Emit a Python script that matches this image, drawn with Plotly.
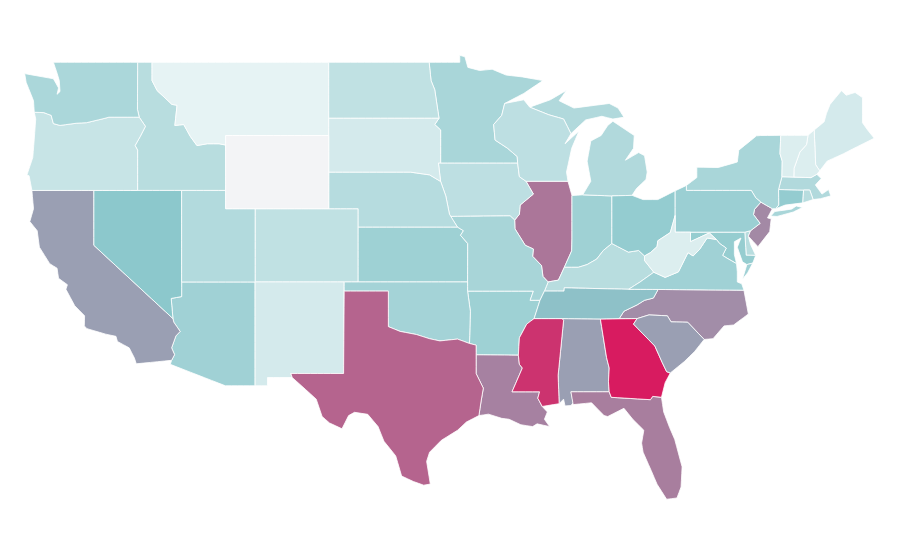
import json, urllib.parse
import plotly.graph_objects as go

states = ["AL","AZ","AR","CA","CO","CT","DE","FL","GA","ID","IL","IN","IA","KS","KY","LA","ME","MD","MA","MI","MN","MS","MO","MT","NE","NV","NH","NJ","NM","NY","NC","ND","OH","OK","OR","PA","RI","SC","SD","TN","TX","UT","VT","VA","WA","WV","WI","WY"]
values = [50,30.6,31.2,50,18.4,35,21.4,59,100,21.4,62,30.9,19.6,31.2,21.4,58,10.9,34.2,24.1,24.1,27.1,90,27.5,4.1,22.2,38,7.9,56,10.9,27.1,55,18.4,35,29,15.8,32.4,21.4,50,10.9,40,70,23.7,7.9,30.6,26.4,7.9,19.6,0]
colorscale = [[0,"#f3f4f6"],[0.03,"#e9f4f5"],[0.38,"#8cc8cc"],[0.5,"#9a9fb3"],[0.6,"#a97a9c"],[0.7,"#b5648e"],[1,"#d81b60"]]

# simplified state outlines, geographic (lon, lat); each state is a list of rings
outlines = {
"WA":[[(-124.7,48.38),(-123.1,48.15),(-122.75,48.1),(-122.4,47.6),(-122.5,47.25),(-122.3,47.4),(-122.35,48.0),(-122.5,48.4),(-122.75,49),(-117.03,49),(-117.04,46.42),(-116.92,46),(-118.98,46),(-119.3,45.93),(-120.5,45.7),(-121.2,45.67),(-122.3,45.55),(-122.75,45.65),(-122.9,46.1),(-123.4,46.25),(-124.05,46.27),(-124.1,46.9),(-124.6,47.9)]],
"OR":[[(-124.05,46.27),(-123.4,46.25),(-122.9,46.1),(-122.75,45.65),(-122.3,45.55),(-121.2,45.67),(-120.5,45.7),(-119.3,45.93),(-118.98,46),(-116.92,46),(-116.5,45.5),(-116.85,44.95),(-117.2,44.45),(-117.03,44.2),(-117.03,42),(-124.21,42),(-124.4,42.8),(-124.55,42.84),(-124.15,43.8),(-124.05,44.8),(-123.95,45.9)]],
"CA":[[(-124.21,42),(-120,42),(-120,39),(-114.63,35),(-114.57,34.8),(-114.14,34.3),(-114.43,34.05),(-114.72,33.4),(-114.52,33.03),(-114.72,32.72),(-117.12,32.53),(-117.25,32.85),(-117.6,33.4),(-118.4,33.75),(-118.5,34.03),(-119.2,34.15),(-120.47,34.45),(-120.65,34.6),(-120.63,35.15),(-121.3,35.7),(-121.9,36.6),(-121.8,36.85),(-122.4,37.2),(-122.5,37.75),(-123,38),(-123.7,38.9),(-123.85,39.8),(-124.35,40.3),(-124.1,41)]],
"NV":[[(-120,42),(-114.04,42),(-114.04,36.2),(-114.75,36.1),(-114.63,35),(-120,39)]],
"ID":[[(-117.03,49),(-116.05,49),(-116.05,48),(-115.7,47.45),(-114.7,46.7),(-114.35,46.65),(-114.5,45.55),(-113.9,45.6),(-113.45,44.95),(-113,44.45),(-112.3,44.55),(-111.5,44.55),(-111.05,44.48),(-111.05,42),(-117.03,42),(-117.03,44.2),(-117.2,44.45),(-116.85,44.95),(-116.5,45.5),(-116.92,46),(-117.04,46.42)]],
"MT":[[(-116.05,49),(-104.05,49),(-104.05,45),(-111.05,45),(-111.05,44.48),(-111.5,44.55),(-112.3,44.55),(-113,44.45),(-113.45,44.95),(-113.9,45.6),(-114.5,45.55),(-114.35,46.65),(-114.7,46.7),(-115.7,47.45),(-116.05,48)]],
"WY":[[(-111.05,45),(-104.05,45),(-104.05,41),(-111.05,41)]],
"UT":[[(-114.04,42),(-111.05,42),(-111.05,41),(-109.05,41),(-109.05,37),(-114.04,37)]],
"CO":[[(-109.05,41),(-102.05,41),(-102.05,37),(-109.05,37)]],
"AZ":[[(-114.04,37),(-109.05,37),(-109.05,31.33),(-111.07,31.33),(-114.81,32.5),(-114.72,32.72),(-114.52,33.03),(-114.72,33.4),(-114.43,34.05),(-114.14,34.3),(-114.57,34.8),(-114.63,35),(-114.75,36.1),(-114.04,36.2)]],
"NM":[[(-109.05,37),(-103,37),(-103.04,32),(-106.62,32),(-106.53,31.78),(-108.21,31.78),(-108.21,31.33),(-109.05,31.33)]],
"ND":[[(-104.05,49),(-97.23,49),(-97.1,48),(-96.85,47.5),(-96.56,45.94),(-104.05,45.94)]],
"SD":[[(-104.05,45.94),(-96.56,45.94),(-96.85,45.6),(-96.45,45.3),(-96.45,43.5),(-96.6,43.5),(-96.45,42.49),(-97.2,42.85),(-98.5,43),(-104.05,43)]],
"NE":[[(-104.05,43),(-98.5,43),(-97.2,42.85),(-96.45,42.49),(-96.1,41.7),(-95.85,40.7),(-95.31,40),(-102.05,40),(-102.05,41),(-104.05,41)]],
"KS":[[(-102.05,40),(-95.31,40),(-94.9,39.8),(-95.1,39.55),(-94.61,39.1),(-94.62,37),(-102.05,37)]],
"OK":[[(-103,37),(-94.62,37),(-94.62,36.5),(-94.43,35.4),(-94.49,33.64),(-95.3,33.88),(-96.5,33.78),(-97.2,33.9),(-98.1,34.13),(-99.2,34.3),(-100,34.56),(-100,36.5),(-103,36.5)]],
"TX":[[(-103,36.5),(-100,36.5),(-100,34.56),(-99.2,34.3),(-98.1,34.13),(-97.2,33.9),(-96.5,33.78),(-95.3,33.88),(-94.49,33.64),(-94.04,33.55),(-94.04,32),(-93.55,31.2),(-93.7,30.5),(-93.85,29.7),(-94.7,29.35),(-95.3,28.9),(-96.4,28.35),(-97.2,27.7),(-97.4,27.2),(-97.15,25.96),(-97.6,25.9),(-98.3,26.1),(-99.1,26.4),(-99.5,27.5),(-100.3,28.3),(-100.7,29.1),(-101.4,29.77),(-102.3,29.88),(-102.7,29.7),(-103.15,28.98),(-104,29.3),(-104.5,29.65),(-104.9,30.6),(-106,31.4),(-106.53,31.78),(-106.62,32),(-103.04,32)]],
"MN":[[(-97.23,49),(-95.15,49),(-95.15,49.38),(-94.8,49.3),(-94.6,48.72),(-93.8,48.55),(-92.95,48.62),(-92,48.3),(-90.9,48.2),(-89.5,48),(-90.8,47.3),(-92.1,46.75),(-92.3,46.1),(-92.85,45.6),(-92.75,44.75),(-91.9,44.3),(-91.25,43.85),(-91.22,43.5),(-96.45,43.5),(-96.45,45.3),(-96.85,45.6),(-96.56,45.94),(-96.85,47.5),(-97.1,48)]],
"IA":[[(-96.6,43.5),(-91.22,43.5),(-91.1,42.75),(-90.65,42.5),(-90.15,41.8),(-91.05,41.2),(-91.1,40.7),(-91.42,40.38),(-91.73,40.61),(-95.77,40.58),(-95.85,40.7),(-96.1,41.7),(-96.45,42.49)]],
"MO":[[(-95.77,40.58),(-91.73,40.61),(-91.42,40.38),(-91.4,39.9),(-90.7,39),(-90.15,38.8),(-90.2,38.4),(-89.6,37.9),(-89.5,37.3),(-89.15,37),(-89.4,36.5),(-89.7,36),(-90.37,36),(-90.15,36.5),(-94.62,36.5),(-94.62,37),(-94.61,39.1),(-95.1,39.55),(-94.9,39.8),(-95.31,40)]],
"AR":[[(-94.62,36.5),(-90.15,36.5),(-90.37,36),(-89.7,36),(-90.1,35),(-90.6,34.7),(-91.1,33.95),(-91.17,33),(-94.04,33.02),(-94.04,33.55),(-94.49,33.64),(-94.43,35.4)]],
"LA":[[(-94.04,33.02),(-91.17,33),(-91.1,32.5),(-90.9,32.3),(-91.6,31),(-89.73,31),(-89.85,30.65),(-89.55,30.2),(-89.2,29.9),(-89.4,29.5),(-89.05,29.1),(-89.9,29.25),(-90.2,29.1),(-91,29.2),(-91.8,29.5),(-92.3,29.55),(-93.2,29.78),(-93.85,29.7),(-93.7,30.5),(-93.55,31.2),(-94.04,32)]],
"MS":[[(-90.1,35),(-88.2,35),(-88.1,34.9),(-88.47,31.9),(-88.4,30.35),(-89.55,30.2),(-89.85,30.65),(-89.73,31),(-91.6,31),(-90.9,32.3),(-91.1,32.5),(-91.17,33),(-91.1,33.95),(-90.6,34.7)]],
"AL":[[(-88.2,35),(-85.6,34.98),(-85.18,32.87),(-85,32.3),(-85.05,31.55),(-85,31),(-87.6,31),(-87.45,30.4),(-87.6,30.25),(-88,30.23),(-88.1,30.6),(-88.4,30.35),(-88.47,31.9),(-88.1,34.9)]],
"GA":[[(-85.6,34.98),(-83.1,35),(-83.35,34.7),(-82.75,34.2),(-81.9,33.5),(-81.4,32.6),(-81.1,32.1),(-80.85,32.03),(-81.2,31.5),(-81.45,30.7),(-82.05,30.75),(-82.2,30.57),(-84.86,30.7),(-85,31),(-85.05,31.55),(-85,32.3),(-85.18,32.87)]],
"FL":[[(-87.6,31),(-85,31),(-84.86,30.7),(-82.2,30.57),(-82.05,30.75),(-81.45,30.7),(-81.3,29.9),(-80.9,29.05),(-80.55,28.4),(-80.05,26.9),(-80.12,25.8),(-80.4,25.2),(-81.1,25.13),(-81.75,25.95),(-82.15,26.7),(-82.7,27.7),(-82.8,28.2),(-82.65,28.9),(-83.4,29.5),(-84,30.1),(-85.1,29.65),(-85.35,29.7),(-86.2,30.4),(-87.45,30.3)]],
"SC":[[(-83.1,35),(-82.3,35.2),(-81.05,35.15),(-80.8,34.82),(-79.67,34.8),(-78.55,33.86),(-79.2,33.2),(-79.9,32.65),(-80.85,32.03),(-81.1,32.1),(-81.4,32.6),(-81.9,33.5),(-82.75,34.2),(-83.35,34.7)]],
"NC":[[(-84.32,35),(-83.1,35),(-82.3,35.2),(-81.05,35.15),(-80.8,34.82),(-79.67,34.8),(-78.55,33.86),(-77.95,33.9),(-77.2,34.6),(-76.55,34.65),(-75.55,35.25),(-75.85,36.55),(-81.68,36.59),(-82,36.12),(-82.6,36),(-83.1,35.75),(-84,35.4)]],
"TN":[[(-90.1,35),(-88.2,35),(-85.6,34.98),(-84.32,35),(-84,35.4),(-83.1,35.75),(-82.6,36),(-82,36.12),(-81.68,36.59),(-83.68,36.6),(-88.05,36.68),(-88.07,36.5),(-89.4,36.5),(-89.7,36)]],
"KY":[[(-89.4,36.5),(-88.07,36.5),(-88.05,36.68),(-83.68,36.6),(-82.9,37),(-81.97,37.53),(-82.6,38.17),(-82.6,38.42),(-83,38.72),(-83.7,38.63),(-84.82,39.1),(-85.4,38.72),(-85.85,38.25),(-86.5,37.95),(-87.1,37.8),(-88.05,37.8),(-88.45,37.1),(-89.15,37)]],
"VA":[[(-83.68,36.6),(-81.68,36.59),(-75.85,36.55),(-76,36.9),(-76.3,37),(-76.3,37.55),(-76.35,38),(-77,38.3),(-77.3,38.45),(-77.05,38.85),(-77.5,39.1),(-77.72,39.32),(-78.35,39.4),(-78.87,38.77),(-79.3,38.42),(-79.65,38.6),(-80.3,37.55),(-81.2,37.25),(-81.97,37.53),(-82.9,37)],[(-75.25,38.03),(-75.65,37.95),(-75.95,37.15),(-75.6,37.5)]],
"WV":[[(-81.97,37.53),(-81.2,37.25),(-80.3,37.55),(-79.65,38.6),(-79.3,38.42),(-78.87,38.77),(-78.35,39.4),(-77.72,39.32),(-78.2,39.68),(-79.48,39.2),(-79.48,39.72),(-80.52,39.72),(-80.52,40.64),(-80.85,39.7),(-81.7,39.25),(-81.75,38.93),(-82.2,38.6),(-82.6,38.42),(-82.6,38.17)]],
"OH":[[(-84.82,41.7),(-83.45,41.73),(-82.7,41.5),(-81.7,41.5),(-80.52,41.98),(-80.52,40.64),(-80.85,39.7),(-81.7,39.25),(-81.75,38.93),(-82.2,38.6),(-82.6,38.42),(-83,38.72),(-83.7,38.63),(-84.82,39.1)]],
"IN":[[(-87.53,41.72),(-86.8,41.76),(-84.82,41.7),(-84.82,39.1),(-85.4,38.72),(-85.85,38.25),(-86.5,37.95),(-87.1,37.8),(-88.05,37.8),(-87.55,38.7),(-87.53,39.35)]],
"IL":[[(-90.65,42.5),(-87.8,42.5),(-87.53,41.72),(-87.53,39.35),(-87.55,38.7),(-88.05,37.8),(-88.45,37.1),(-89.15,37),(-89.5,37.3),(-89.6,37.9),(-90.2,38.4),(-90.15,38.8),(-90.7,39),(-91.4,39.9),(-91.42,40.38),(-91.1,40.7),(-91.05,41.2),(-90.15,41.8)]],
"WI":[[(-92.1,46.75),(-90.8,46.95),(-90.4,46.55),(-89.1,46.13),(-88.1,45.9),(-87.6,45.1),(-88,44.55),(-87.05,45.25),(-87.55,44.3),(-87.9,43),(-87.8,42.5),(-90.65,42.5),(-91.1,42.75),(-91.22,43.5),(-91.25,43.85),(-91.9,44.3),(-92.75,44.75),(-92.85,45.6),(-92.3,46.1)]],
"MI":[[(-86.8,41.76),(-84.82,41.7),(-83.45,41.73),(-83.15,42.1),(-82.5,42.6),(-82.42,43),(-82.6,43.9),(-83,44.07),(-83.9,43.65),(-83.35,44.3),(-83.3,45),(-84.75,45.78),(-85.1,45.55),(-85.55,45),(-86.25,44.7),(-86.5,43.6),(-86.25,42.5)],[(-90.4,46.55),(-89,46.95),(-87.9,47.47),(-88.4,46.9),(-87.4,46.5),(-85,46.75),(-84.4,46.5),(-84,46),(-84.75,45.9),(-85.5,46.05),(-86.6,45.85),(-87.6,45.1),(-88.1,45.9),(-89.1,46.13)]],
"PA":[[(-80.52,41.98),(-79.76,42.27),(-79.76,42),(-75.35,42),(-75.05,41.6),(-74.7,41.36),(-75.13,40.97),(-75.2,40.68),(-74.75,40.2),(-75.4,39.8),(-75.79,39.72),(-80.52,39.72)]],
"NY":[[(-79.76,42.27),(-79.05,42.7),(-79.05,43.27),(-77.6,43.25),(-76.3,43.55),(-76.2,44.2),(-75,44.98),(-74.7,45),(-73.35,45.01),(-73.4,44),(-73.25,43.6),(-73.27,42.75),(-73.5,42.05),(-73.49,41.2),(-73.7,41),(-73.92,41),(-74.7,41.36),(-75.05,41.6),(-75.35,42),(-79.76,42)],[(-74.03,40.6),(-73.75,40.85),(-72.6,40.98),(-72.3,41.15),(-71.87,41.07),(-72.5,40.82),(-73.6,40.58)]],
"NJ":[[(-74.7,41.36),(-73.92,41),(-74.25,40.5),(-74,40.45),(-74.1,39.75),(-74.9,38.93),(-75.55,39.5),(-75.4,39.8),(-74.75,40.2),(-75.2,40.68),(-75.13,40.97)]],
"DE":[[(-75.79,39.72),(-75.4,39.8),(-75.55,39.5),(-75.4,39.05),(-75.05,38.45),(-75.7,38.46)]],
"MD":[[(-79.48,39.72),(-75.79,39.72),(-75.7,38.46),(-75.05,38.45),(-75.25,38.03),(-75.65,37.95),(-75.95,38.1),(-76.3,38.9),(-76.05,39.4),(-76.5,39.2),(-76.5,38.5),(-76.35,38),(-77,38.3),(-77.3,38.45),(-77.05,38.85),(-77.5,39.1),(-77.72,39.32),(-78.2,39.68),(-79.48,39.2)]],
"CT":[[(-73.5,42.05),(-71.8,42.02),(-71.85,41.32),(-73.05,41.2),(-73.7,41),(-73.49,41.2)]],
"RI":[[(-71.8,42.02),(-71.38,42.02),(-71.15,41.5),(-71.85,41.32)]],
"MA":[[(-73.5,42.05),(-73.27,42.75),(-71.3,42.7),(-70.9,42.88),(-70.6,42.65),(-71,42.3),(-70.55,41.8),(-70.1,42.05),(-69.95,41.7),(-70.65,41.55),(-71.15,41.5),(-71.38,42.02),(-71.8,42.02)]],
"VT":[[(-73.35,45.01),(-71.5,45.01),(-71.6,44.5),(-72.05,44.1),(-72.45,43.2),(-72.46,42.73),(-73.27,42.75),(-73.25,43.6),(-73.4,44)]],
"NH":[[(-71.5,45.01),(-71.08,45.3),(-70.98,43.4),(-70.7,43.07),(-70.9,42.88),(-71.3,42.7),(-72.46,42.73),(-72.45,43.2),(-72.05,44.1),(-71.6,44.5)]],
"ME":[[(-71.08,45.3),(-70.4,45.75),(-70.25,46.2),(-70,46.7),(-69.23,47.45),(-68.9,47.2),(-68.3,47.35),(-67.8,47.07),(-67.8,45.7),(-67.45,45.3),(-67,44.85),(-68.5,44.25),(-69.1,44),(-70.2,43.6),(-70.7,43.07),(-70.98,43.4)]],
}

LAT_STRETCH = 18.34/14.75   # the reference's north-south scale over its east-west scale
LAT_MID = 37.0

def ring_coords(ring):
    area = sum(a[0]*b[1]-b[0]*a[1] for a, b in zip(ring, ring[1:]+ring[:1]))
    r = ring[::-1] if area > 0 else ring
    r = r + r[:1]
    out = []
    for a, b in zip(r, r[1:]):
        n = int(max(abs(b[0]-a[0]), abs(b[1]-a[1]))/0.5) + 1
        for i in range(n):
            t = i/n
            out.append([a[0]+(b[0]-a[0])*t, a[1]+(b[1]-a[1])*t])
    out.append(list(r[-1]))
    return [[x, LAT_MID+(y-LAT_MID)*LAT_STRETCH] for x, y in out]

geojson = {"type":"FeatureCollection","features":[
    {"type":"Feature","id":s,"properties":{},
     "geometry":{"type":"MultiPolygon","coordinates":[[ring_coords(r)] for r in outlines[s]]}}
    for s in states]}

empty = {"type":"GeometryCollection","geometries":[]}
base = {"type":"Topology","objects":{k:empty for k in ["coastlines","land","ocean","lakes","rivers","countries","subunits"]},"arcs":[]}
topo_url = "data:application/json," + urllib.parse.quote(json.dumps(base)) + "#"

fig = go.Figure(go.Choropleth(geojson=geojson, locations=states, z=values,
    colorscale=colorscale, zmin=0, zmax=100, showscale=False,
    marker=dict(line=dict(color="white", width=0.8))))
fig.update_geos(projection_type="equirectangular", visible=False, bgcolor="white",
    lonaxis_range=[-125.66,-64.88], lataxis_range=[17.69,55.49],
    center=dict(lon=-95.27, lat=36.59),
    domain=dict(x=[0,1], y=[0,1]))
fig.update_layout(width=900, height=560, margin=dict(l=0,r=0,t=0,b=0), paper_bgcolor="white")
fig.write_html("out.html", config={"topojsonURL":topo_url})
